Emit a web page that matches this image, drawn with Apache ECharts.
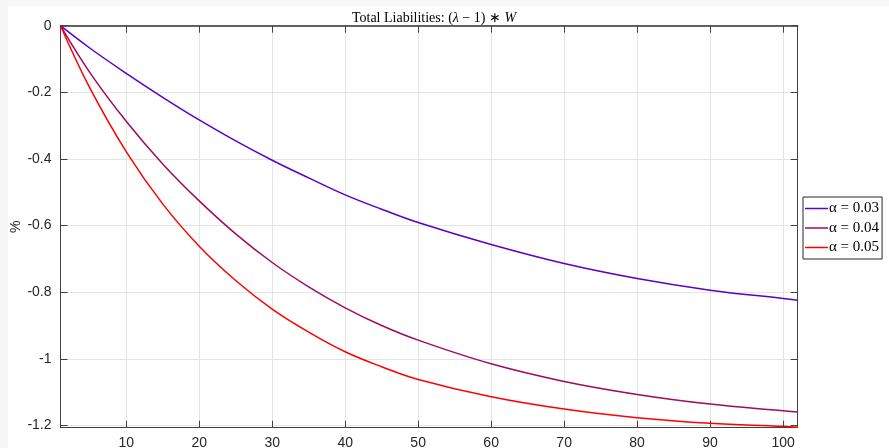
<!DOCTYPE html>
<html>
<head>
<meta charset="utf-8">
<script src="https://cdn.jsdelivr.net/npm/echarts@6/dist/echarts.min.js"></script>
<style>
  html, body { margin: 0; padding: 0; background: #f7f7f7; }
  #main { position: absolute; left: 8px; top: 6px; width: 881px; height: 442px; }
</style>
</head>
<body>
<div id="main"></div>
<script>
// periods (x) and liabilities (%)
const periods = [1, 5, 10, 15, 20, 25, 30, 35, 40, 45, 50, 60, 70, 80, 90, 100, 102];
const alpha03 = [0, -0.067, -0.143, -0.215, -0.283, -0.346, -0.404, -0.457, -0.508, -0.551, -0.591, -0.657, -0.714, -0.759, -0.794, -0.819, -0.824];
const alpha04 = [0, -0.140, -0.287, -0.415, -0.526, -0.625, -0.711, -0.784, -0.847, -0.900, -0.944, -1.015, -1.068, -1.107, -1.136, -1.156, -1.160];
const alpha05 = [0, -0.186, -0.378, -0.535, -0.662, -0.765, -0.851, -0.920, -0.979, -1.024, -1.062, -1.114, -1.151, -1.177, -1.194, -1.203, -1.206];
const seriesNames = ['α = 0.03', 'α = 0.04', 'α = 0.05'];
const xTicks = [10, 20, 30, 40, 50, 60, 70, 80, 90, 100];
const yTicks = [0, -0.2, -0.4, -0.6, -0.8, -1, -1.2];

const axisColor = '#404040';
const gridColor = '#e4e4e4';
const labelFont = { color: '#262626', fontSize: 14, fontFamily: 'Liberation Sans, Arial, sans-serif' };

const pairs = (ys) => periods.map((x, i) => [x, ys[i]]);

const myChart = echarts.init(document.getElementById('main'));

const xBase = {
  type: 'value', min: 1, max: 102,
  axisLine: { show: true, onZero: false, lineStyle: { color: axisColor, width: 1 } },
  axisTick: { show: true, inside: true, length: 7, customValues: xTicks, lineStyle: { color: axisColor } },
};
const yBase = {
  type: 'value', min: -1.207, max: 0,
  axisLine: { show: true, onZero: false, lineStyle: { color: axisColor, width: 1 } },
  axisTick: { show: true, inside: true, length: 7, customValues: yTicks, lineStyle: { color: axisColor } },
};

const lineSeries = (name, ys, color) => ({
  name: name, type: 'line', data: pairs(ys),
  smooth: 0.4,
  symbol: 'none', lineStyle: { color: color, width: 1.5 }, itemStyle: { color: color }
});

const option = {
  backgroundColor: '#ffffff',
  animation: false,
  title: {
    text: '{n|Total Liabilities: (}{i|λ}{n| − 1) ∗ }{i|W}',
    left: 421,
    top: 0,
    textAlign: 'center',
    textStyle: {
      fontWeight: 'normal',
      rich: {
        n: { fontFamily: 'Liberation Serif, serif', fontSize: 14, fontWeight: 'normal', color: '#000' },
        i: { fontFamily: 'Liberation Serif, serif', fontSize: 14, fontWeight: 'normal', fontStyle: 'italic', color: '#000' }
      }
    }
  },
  grid: { left: 52.5, top: 19.7, right: 91.3, bottom: 20.3, outerBoundsMode: 'none', containLabel: false },
  legend: {
    orient: 'vertical',
    left: 795,
    top: 191,
    itemWidth: 23,
    itemHeight: 14,
    itemGap: 4.5,
    padding: [4, 3, 4, 2],
    icon: 'path://M0,0 L23,0 L23,1.5 L0,1.5 Z',
    borderColor: '#262626',
    borderWidth: 1,
    backgroundColor: '#fff',
    textStyle: { fontFamily: 'Liberation Serif, serif', fontSize: 15, color: '#000', padding: [0, 0, 0, -4] },
    data: seriesNames
  },
  xAxis: [
    Object.assign({}, xBase, {
      position: 'bottom',
      axisLabel: Object.assign({ show: true, margin: 8, customValues: xTicks }, labelFont),
      splitLine: { show: true, lineStyle: { color: gridColor, width: 1 } }
    }),
    Object.assign({}, xBase, {
      position: 'top',
      axisLine: { show: true, onZero: false, lineStyle: { color: '#333', width: 1.5 } },
      axisLabel: { show: false },
      splitLine: { show: false }
    })
  ],
  yAxis: [
    Object.assign({}, yBase, {
      position: 'left',
      name: '%',
      nameLocation: 'middle',
      nameGap: 37,
      nameMoveOverlap: false,
      nameTextStyle: labelFont,
      axisLabel: Object.assign({ show: true, margin: 9, customValues: yTicks, formatter: (v) => String(v) }, labelFont),
      splitLine: { show: true, lineStyle: { color: gridColor, width: 1 } }
    }),
    Object.assign({}, yBase, {
      position: 'right',
      axisLabel: { show: false },
      splitLine: { show: false }
    })
  ],
  series: [
    lineSeries(seriesNames[0], alpha03, '#5a00c8'),
    lineSeries(seriesNames[1], alpha04, '#9e0b62'),
    lineSeries(seriesNames[2], alpha05, '#ff0000')
  ]
};

option && myChart.setOption(option);
</script>
</body>
</html>
